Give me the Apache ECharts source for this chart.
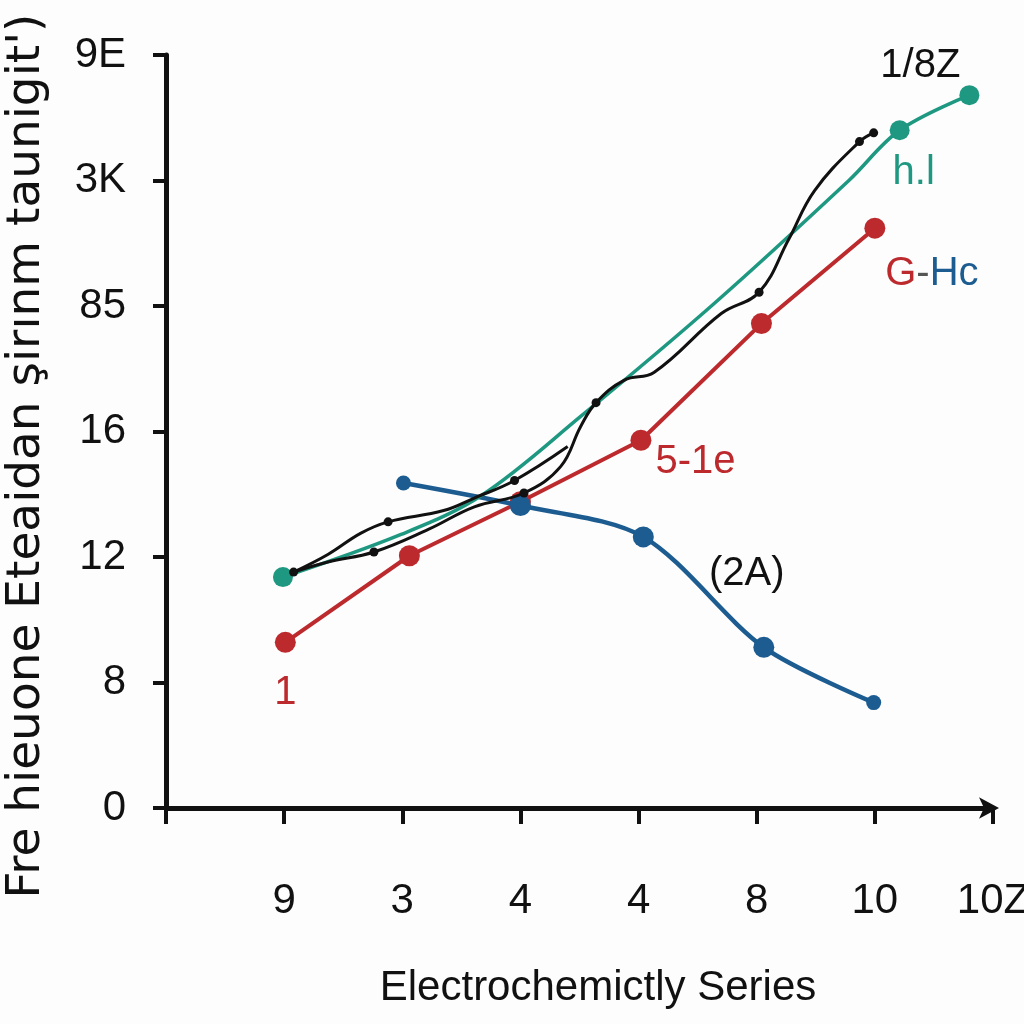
<!DOCTYPE html>
<html>
<head>
<meta charset="utf-8">
<script src="https://cdn.jsdelivr.net/npm/echarts@6/dist/echarts.min.js"></script>
<style>
html,body{margin:0;padding:0;background:#fdfdfd;overflow:hidden;}
#c{width:1024px;height:1024px;}
</style>
</head>
<body>
<div id="c"></div>
<script>
const yTickLabels = ['0', '8', '12', '16', '85', '3K', '9E'];
const xTickLabels = ['', '9', '3', '4', '4', '8', '10', '10Z'];

const redX = [1.01, 2.06, 3.0, 4.02, 5.04, 6.0];
const redY = [1.32, 2.01, 2.44, 2.93, 3.86, 4.62];
const redLabels = ['1', '', '', '5-1e', '', 'G-Hc'];

const blueX = [2.01, 3.0, 4.04, 5.06, 5.99];
const blueY = [2.59, 2.41, 2.16, 1.28, 0.84];
const blueLabels = ['', '', '', '(2A)', ''];

const tealX = [0.99, 1.99, 2.67, 3.51, 4.64, 5.78, 6.21, 6.8];
const tealY = [1.84, 2.18, 2.49, 3.12, 4.02, 5.00, 5.40, 5.68];
const tealMarkX = [0.99, 6.21, 6.8];
const tealMarkY = [1.84, 5.40, 5.68];
const tealLabels = ['', 'h.l', '1/8Z'];

const blackAX = [1.08, 1.37, 1.65, 1.88, 2.35, 2.61, 2.95, 3.40];
const blackAY = [1.88, 2.02, 2.19, 2.28, 2.37, 2.47, 2.61, 2.88];
const blackBX = [1.08, 1.37, 1.76, 2.22, 2.61, 3.03, 3.34, 3.51, 3.64, 3.88, 4.13, 4.70, 5.02, 5.27, 5.49, 5.87, 5.99];
const blackBY = [1.88, 1.96, 2.04, 2.22, 2.40, 2.51, 2.72, 3.04, 3.23, 3.41, 3.47, 3.94, 4.11, 4.53, 4.92, 5.31, 5.38];
const blackMarkX = [1.08, 1.88, 2.95, 1.76, 3.03, 3.64, 5.02, 5.87, 5.99];
const blackMarkY = [1.88, 2.28, 2.61, 2.04, 2.51, 3.23, 4.11, 5.31, 5.38];

const yTitle = "Fre hieuone Eteaidan şirınm taunigit')";
const xTitle = 'Electrochemictly Series';

const RED = '#bd2a2e', BLUE = '#1c5c90', TEAL = '#1f9882', BLACK = '#111111';
const FONT = '"Liberation Sans", Arial, sans-serif';

const zip = (xs, ys) => xs.map((x, i) => [x, ys[i]]);

const labelStyles = {
  '1': { position: 'bottom', distance: 20, color: RED },
  '5-1e': { position: 'right', offset: [-4, 22], distance: 8, color: RED },
  'G-Hc': { position: 'bottom', offset: [57, 10], color: RED,
            formatter: '{r|G}{g|-}{b|Hc}',
            rich: { r: { color: RED, fontSize: 40, fontFamily: FONT },
                    g: { color: '#555', fontSize: 40, fontFamily: FONT },
                    b: { color: BLUE, fontSize: 40, fontFamily: FONT } } },
  '(2A)': { position: 'top', offset: [-17, -38], color: BLACK },
  'h.l': { position: 'bottom', offset: [14, 8], color: TEAL },
  '1/8Z': { position: 'top', offset: [-49, 6], color: BLACK }
};

function withLabels(points, labels) {
  return points.map((p, i) => {
    const t = labels[i];
    if (!t) return { value: p };
    const s = labelStyles[t];
    return {
      value: p,
      label: Object.assign({ show: true, formatter: t, fontSize: 40, fontFamily: FONT }, s)
    };
  });
}

const chart = echarts.init(document.getElementById('c'), null, { renderer: 'canvas' });
chart.setOption({
  backgroundColor: '#fdfdfd',
  animation: false,
  grid: { left: 166, right: 31, top: 55, bottom: 216, containLabel: false, outerBoundsMode: 'none' },
  xAxis: {
    type: 'value', min: 0, max: 7, interval: 1,
    splitLine: { show: false },
    axisLine: { show: true, lineStyle: { color: BLACK, width: 5 },
                symbol: ['none', 'arrow'], symbolSize: [16, 20], symbolOffset: [0, 6] },
    axisTick: { show: true, length: 16, lineStyle: { color: BLACK, width: 4 } },
    axisLabel: { formatter: v => xTickLabels[v] || '', fontSize: 42, color: BLACK,
                 fontFamily: FONT, margin: 72 }
  },
  yAxis: {
    type: 'value', min: 0, max: 6, interval: 1,
    splitLine: { show: false },
    axisLine: { show: true, lineStyle: { color: BLACK, width: 5 } },
    axisTick: { show: true, length: 13, lineStyle: { color: BLACK, width: 4 } },
    axisLabel: { formatter: v => yTickLabels[v], fontSize: 42, color: BLACK,
                 fontFamily: FONT, margin: 40 }
  },
  graphic: [
    { type: 'text', x: 27, y: 456, rotation: Math.PI / 2,
      style: { text: yTitle, font: '47px "DejaVu Sans", ' + FONT, fill: BLACK, textAlign: 'center', textVerticalAlign: 'middle' } },
    { type: 'text', x: 598, y: 988,
      style: { text: xTitle, font: '42px ' + FONT, fill: BLACK, textAlign: 'center', textVerticalAlign: 'middle' } }
  ],
  series: [
    { type: 'line', z: 2, data: withLabels(zip(redX, redY), redLabels),
      symbol: 'circle', symbolSize: 21, itemStyle: { color: RED },
      lineStyle: { color: RED, width: 4 } },
    { type: 'line', z: 3, smooth: 0.3, data: withLabels(zip(blueX, blueY), blueLabels),
      symbol: 'circle', symbolSize: (v, p) => (p.dataIndex === 0 || p.dataIndex === 4) ? 15 : 21,
      itemStyle: { color: BLUE }, lineStyle: { color: BLUE, width: 4.5 } },
    { type: 'line', z: 4, smooth: 0.35, data: zip(tealX, tealY), showSymbol: false,
      lineStyle: { color: TEAL, width: 3.5 } },
    { type: 'scatter', z: 5, data: withLabels(zip(tealMarkX, tealMarkY), tealLabels),
      symbolSize: 20, itemStyle: { color: TEAL, opacity: 1 } },
    { type: 'line', z: 6, smooth: 0.4, data: zip(blackAX, blackAY), showSymbol: false,
      lineStyle: { color: BLACK, width: 3 } },
    { type: 'line', z: 6, smooth: 0.4, data: zip(blackBX, blackBY), showSymbol: false,
      lineStyle: { color: BLACK, width: 3 } },
    { type: 'scatter', z: 7, data: zip(blackMarkX, blackMarkY),
      symbolSize: 9, itemStyle: { color: BLACK, opacity: 1 } }
  ]
});
</script>
</body>
</html>
